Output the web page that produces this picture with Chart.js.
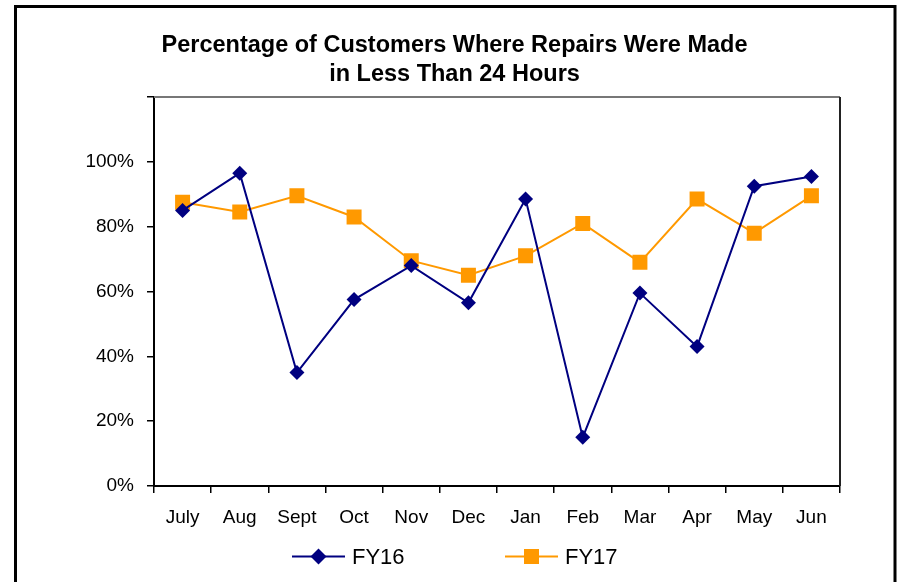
<!DOCTYPE html>
<html>
<head>
<meta charset="utf-8">
<script src="https://cdn.jsdelivr.net/npm/chart.js@4"></script>
<style>
  html, body { margin: 0; padding: 0; background: #fff; }
  #wrap { width: 900px; height: 582px; position: relative; }
</style>
</head>
<body>
<div id="wrap"><canvas id="c" width="900" height="582"></canvas></div>
<script>
const categories = ['July', 'Aug', 'Sept', 'Oct', 'Nov', 'Dec', 'Jan', 'Feb', 'Mar', 'Apr', 'May', 'Jun'];
const fy16 = [85, 96.5, 35, 57.5, 68, 56.5, 88.5, 15, 59.5, 43, 92.5, 95.5];
const fy17 = [87.5, 84.5, 89.5, 83, 69.5, 65, 71, 81, 69, 88.5, 78, 89.5];
const seriesNames = ['FY16', 'FY17'];
const titleLines = ['Percentage of Customers Where Repairs Were Made', 'in Less Than 24 Hours'];
const yTickValues = [0, 20, 40, 60, 80, 100];

const NAVY = '#000080';
const ORANGE = '#FF9900';
const FONT = "'Liberation Sans', Arial, sans-serif";

function drawMarker(ctx, style, x, y, r, color) {
  ctx.save();
  ctx.fillStyle = color;
  ctx.beginPath();
  if (style === 'rectRot') {
    ctx.moveTo(x - r, y); ctx.lineTo(x, y - r); ctx.lineTo(x + r, y); ctx.lineTo(x, y + r);
    ctx.closePath();
  } else {
    const s = r * Math.SQRT1_2;
    ctx.rect(x - s, y - s, 2 * s, 2 * s);
  }
  ctx.fill();
  ctx.restore();
}

const framePlugin = {
  id: 'frame',
  afterDraw(chart) {
    const ctx = chart.ctx;
    const a = chart.chartArea;
    ctx.save();
    // plot area top and right border
    ctx.lineWidth = 2;
    ctx.strokeStyle = '#777';
    ctx.beginPath(); ctx.moveTo(a.left, a.top); ctx.lineTo(a.right, a.top); ctx.stroke();
    ctx.strokeStyle = '#222';
    ctx.beginPath(); ctx.moveTo(a.right, a.top); ctx.lineTo(a.right, a.bottom); ctx.stroke();
    // outer border
    ctx.lineWidth = 3;
    ctx.strokeStyle = '#000';
    ctx.strokeRect(15.5, 6.5, 879.5, 600);
    // legend
    const items = [{x: 292}, {x: 505}];
    const ly = 556.5;
    chart.data.datasets.forEach((ds, i) => {
      const x0 = items[i].x;
      ctx.strokeStyle = ds.borderColor;
      ctx.lineWidth = 2;
      ctx.beginPath(); ctx.moveTo(x0, ly); ctx.lineTo(x0 + 53, ly); ctx.stroke();
      drawMarker(ctx, ds.pointStyle, x0 + 26.5, ly, ds.pointStyle === 'rect' ? 10.6 : 8, ds.backgroundColor);
      ctx.fillStyle = '#000';
      ctx.font = '22px ' + FONT;
      ctx.textBaseline = 'middle';
      ctx.textAlign = 'left';
      ctx.fillText(ds.label, x0 + 60, ly + 1);
    });
    ctx.restore();
  }
};

new Chart(document.getElementById('c'), {
  type: 'line',
  data: {
    labels: categories,
    datasets: [
      {
        label: seriesNames[0], data: fy16,
        borderColor: NAVY, backgroundColor: NAVY, borderWidth: 2,
        pointStyle: 'rectRot', pointRadius: 7.5, pointHoverRadius: 7.5,
        pointBorderWidth: 0, tension: 0, fill: false
      },
      {
        label: seriesNames[1], data: fy17,
        borderColor: ORANGE, backgroundColor: ORANGE, borderWidth: 2,
        pointStyle: 'rect', pointRadius: 10.6, pointHoverRadius: 10.6,
        pointBorderWidth: 0, tension: 0, fill: false
      }
    ]
  },
  options: {
    responsive: false,
    animation: false,
    events: [],
    layout: { padding: { left: 69, right: 60, top: 0, bottom: 0 } },
    plugins: {
      legend: { display: false },
      tooltip: { enabled: false },
      title: {
        display: true,
        text: titleLines,
        color: '#000',
        font: { family: FONT, size: 23.5, weight: 'bold', lineHeight: 1.234 },
        padding: { top: 31.5, bottom: 7.5 }
      }
    },
    scales: {
      x: {
        offset: true,
        grid: { display: true, offset: true, drawOnChartArea: false, drawTicks: true, tickLength: 7, color: '#000', lineWidth: 1.5 },
        border: { display: true, color: '#000', width: 2 },
        ticks: { color: '#000', font: { family: FONT, size: 19 }, padding: 13, maxRotation: 0, autoSkip: false },
        afterFit(scale) { scale.height = 96; }
      },
      y: {
        min: 0, max: 120,
        afterBuildTicks(scale) { scale.ticks = yTickValues.concat([120]).map(v => ({ value: v })); },
        grid: { display: true, drawOnChartArea: false, drawTicks: true, tickLength: 7, color: '#000', lineWidth: 1.5 },
        border: { display: true, color: '#000', width: 2 },
        ticks: {
          color: '#000', font: { family: FONT, size: 19 }, padding: 13,
          callback: (v) => yTickValues.includes(v) ? v + '%' : ''
        },
        afterFit(scale) { scale.width = 85; }
      }
    }
  },
  plugins: [framePlugin]
});
</script>
</body>
</html>
